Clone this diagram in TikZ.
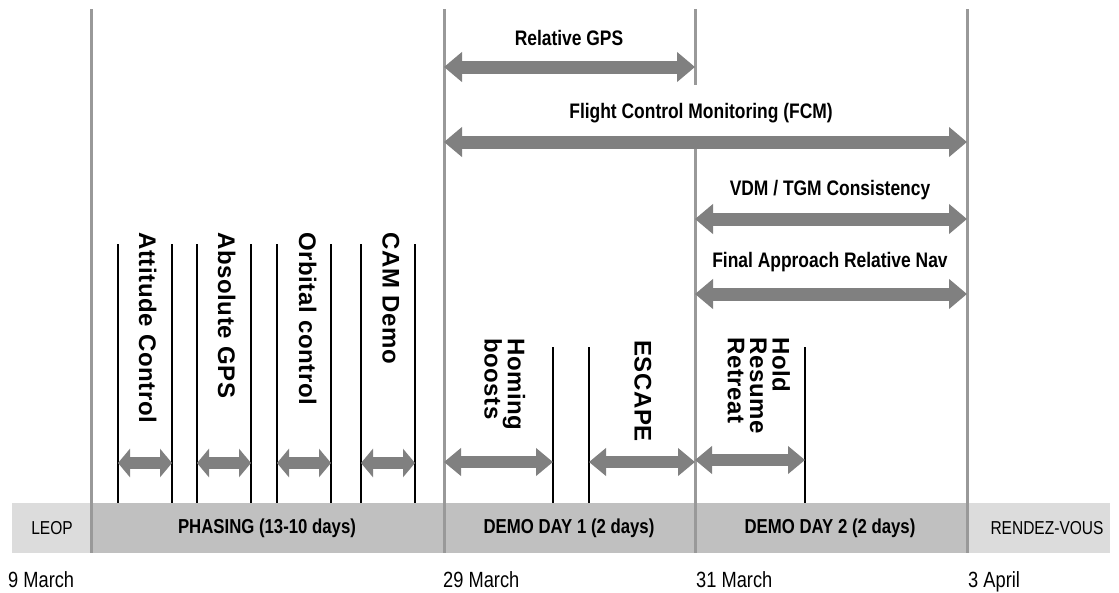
\documentclass[tikz,border=0pt]{standalone}
\usepackage{fontspec}
\setmainfont{Liberation Sans}[FakeStretch=0.83]
\newfontfamily\vfont{Liberation Sans}[LetterSpace=2.5]
\usetikzlibrary{arrows.meta}
\definecolor{bandgray}{HTML}{C0C0C0}
\definecolor{lightband}{HTML}{DCDCDC}
\definecolor{sepgray}{HTML}{999999}
\definecolor{arrowgray}{HTML}{808080}
\newcommand\vtext[1]{{\vfont\bfseries\fontsize{24}{19.5}\selectfont\begin{tabular}{@{}l@{}}#1\end{tabular}}}
\tikzset{
  sepline/.style={draw=sepgray, line width=3pt},
  thinline/.style={draw=black, line width=1.3pt},
  bigarrow/.style={draw=arrowgray, line width=13pt,
    {Triangle[width=29pt,length=18pt]}-{Triangle[width=29pt,length=18pt]}},
  midarrow/.style={draw=arrowgray, line width=12pt,
    {Triangle[width=27pt,length=17pt]}-{Triangle[width=27pt,length=17pt]}},
  smallarrow/.style={draw=arrowgray, line width=12pt,
    {Triangle[width=28pt,length=12pt]}-{Triangle[width=28pt,length=12pt]}},
  toplabel/.style={inner sep=0pt, font=\bfseries\fontsize{21}{24}\selectfont},
  bandlabel/.style={inner sep=0pt, font=\bfseries\fontsize{20.2}{24}\selectfont},
  sidelabel/.style={inner sep=0pt, font=\fontsize{18.7}{22}\selectfont},
  datelabel/.style={inner sep=0pt, anchor=base west, font=\fontsize{22}{24}\selectfont},
  vlabel/.style={inner sep=0pt, rotate=-90, anchor=west},
}
\begin{document}
\begin{tikzpicture}[x=1pt,y=-1pt]
\useasboundingbox (0,0) rectangle (1119,592);
% bottom band
\fill[lightband] (12,503) rectangle (91,553);
\fill[bandgray] (91,503) rectangle (967,553);
\fill[lightband] (967,503) rectangle (1110,553);
\node[sidelabel] (leop) at (52,528) {LEOP};
\node[bandlabel] (phasing) at (267,528) {PHASING (13-10 days)};
\node[bandlabel] (dd1) at (569,528) {DEMO DAY 1 (2 days)};
\node[bandlabel] (dd2) at (830,528) {DEMO DAY 2 (2 days)};
\node[sidelabel] (rv) at (1047,528) {RENDEZ-VOUS};
% dates
\node[datelabel] (d1) at (8,587) {9 March};
\node[datelabel] (d2) at (443,587) {29 March};
\node[datelabel] (d3) at (696,587) {31 March};
\node[datelabel] (d4) at (968,587) {3 April};
% major separators
\coordinate (s1t) at (91,9);   \coordinate (s1b) at (91,553);
\coordinate (s2t) at (444,9);  \coordinate (s2b) at (444,553);
\coordinate (s3t) at (695,9);  \coordinate (s3m) at (695,85);
\coordinate (s3n) at (695,136); \coordinate (s3b) at (695,553);
\coordinate (s4t) at (967,9);  \coordinate (s4b) at (967,553);
\draw[sepline] (s1t) -- (s1b);
\draw[sepline] (s2t) -- (s2b);
\draw[sepline] (s3t) -- (s3m);
\draw[sepline] (s3n) -- (s3b);
\draw[sepline] (s4t) -- (s4b);
% phasing thin lines
\foreach \x [count=\i] in {118,172,197,251,277,331,361,415} {
  \coordinate (p\i t) at (\x,244); \coordinate (p\i b) at (\x,503);
  \draw[thinline] (p\i t) -- (p\i b);
}
% demo thin lines
\foreach \x [count=\i] in {553,589,805} {
  \coordinate (q\i t) at (\x,347); \coordinate (q\i b) at (\x,503);
  \draw[thinline] (q\i t) -- (q\i b);
}
% top arrows
\node[toplabel] (relgps) at (569,38) {Relative GPS};
\coordinate (rga) at (444,67); \coordinate (rgb) at (695,67);
\draw[bigarrow] (rga) -- (rgb);
\node[toplabel] (fcm) at (701,113) {Flight Control Monitoring (FCM)};
\coordinate (fca) at (444,142); \coordinate (fcb) at (967,142);
\draw[bigarrow] (fca) -- (fcb);
\node[toplabel] (vdm) at (830,190) {VDM / TGM Consistency};
\coordinate (vda) at (695,219); \coordinate (vdb) at (967,219);
\draw[bigarrow] (vda) -- (vdb);
\node[toplabel] (fin) at (830,262) {Final Approach Relative Nav};
\coordinate (fia) at (695,294); \coordinate (fib) at (967,294);
\draw[bigarrow] (fia) -- (fib);
% phasing labels and arrows
\node[vlabel] (att) at (145,232) {\vtext{Attitude Control}};
\node[vlabel] (abs) at (224,232) {\vtext{Absolute GPS}};
\node[vlabel] (orb) at (305,232) {\vtext{Orbital control}};
\node[vlabel] (cam) at (388,232) {\vtext{CAM Demo}};
\draw[smallarrow] (118,463) -- (172,463);
\draw[smallarrow] (197,463) -- (251,463);
\draw[smallarrow] (277,463) -- (331,463);
\draw[smallarrow] (361,463) -- (415,463);
% demo labels and arrows
\node[vlabel] (hom) at (502,338) {\vtext{Homing\\boosts}};
\node[vlabel] (esc) at (640,340) {\vtext{ESCAPE}};
\node[vlabel] (hold) at (756,337) {\vtext{Hold\\Resume\\Retreat}};
\draw[midarrow] (444,462) -- (553,462);
\draw[midarrow] (589,462) -- (695,462);
\draw[midarrow] (695,460) -- (805,460);
\end{tikzpicture}
\end{document}
